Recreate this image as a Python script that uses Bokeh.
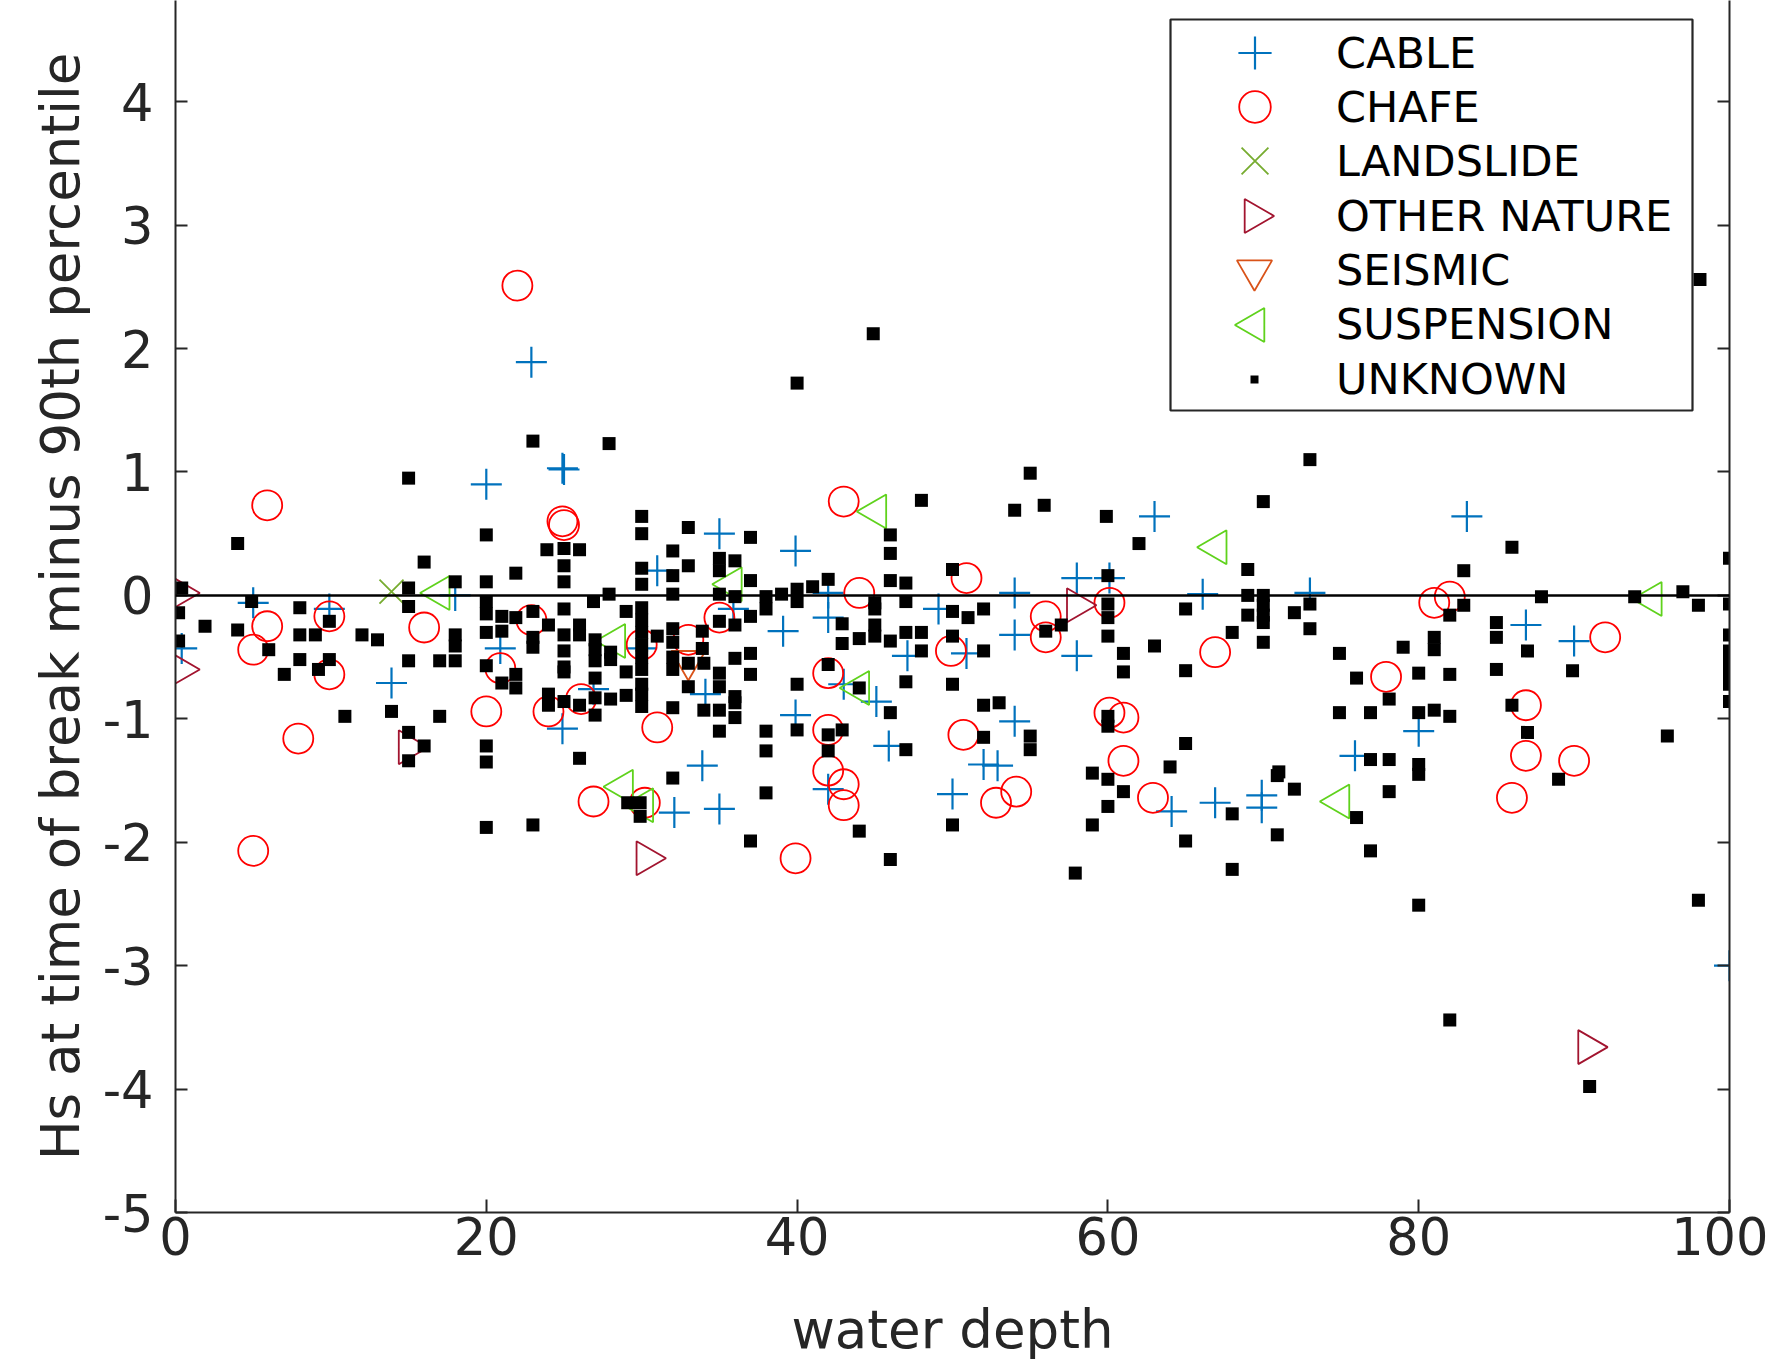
import numpy as np
from bokeh.plotting import figure
from bokeh.models import (Range1d, FixedTicker, LinearAxis, Span, Legend, LegendItem,
                          BoxAnnotation, PolyAnnotation)
from bokeh.embed import file_html
from bokeh.resources import INLINE

# ---------------- data ----------------
cable_x = [22.9, 20.0, 25.0, 24.9, 18.0, 5.0, 9.9, 0.4, 13.9, 20.9, 31.0, 26.9, 24.9, 30.0,
           35.0, 39.9, 42.0, 54.0, 58.0, 60.1, 63.0, 66.1, 35.9, 42.0, 39.1, 49.1, 54.0, 58.0,
           47.1, 50.9, 34.1, 43.0, 45.1, 39.9, 54.0, 45.9, 52.0, 52.9, 33.9,
           83.1, 73.0, 86.9, 90.0, 80.0, 75.9,
           32.1, 35.0, 42.0, 50.0, 64.1, 66.9, 69.9, 69.9, 100.0]
cable_y = [1.89, 0.90, 1.02, 1.03, 0.00, -0.06, -0.11, -0.43, -0.71, -0.43, 0.20, -0.76, -1.08, -0.43,
           0.50, 0.36, 0.02, 0.02, 0.14, 0.14, 0.64, 0.01, -0.11, -0.18, -0.29, -0.11, -0.32, -0.49,
           -0.49, -0.47, -0.80, -0.72, -0.86, -0.97, -1.02, -1.22, -1.37, -1.38, -1.38,
           0.64, 0.02, -0.24, -0.37, -1.10, -1.30,
           -1.76, -1.73, -1.57, -1.61, -1.75, -1.68, -1.62, -1.72, -3.00]

chafe_x = [22.0, 5.9, 24.9, 25.0, 5.9, 5.0, 9.9, 9.9, 16.0, 7.9, 20.0, 22.9, 20.9, 24.0, 26.1,
           30.0, 31.0, 33.0,
           43.0, 44.0, 50.9, 35.0, 56.0, 56.0, 60.1, 49.9, 42.0, 66.9, 42.0, 50.7, 60.1, 61.0,
           61.0, 42.0,
           81.0, 82.0, 77.9, 92.0, 86.9, 86.9, 90.0,
           5.0, 26.9, 30.2, 43.0, 43.0, 39.9, 52.8, 54.1, 62.9, 86.0]
chafe_y = [2.51, 0.73, 0.60, 0.57, -0.25, -0.44, -0.17, -0.64, -0.26, -1.16, -0.94, -0.20, -0.59, -0.94, -0.84,
           -0.40, -1.07, -0.36,
           0.76, 0.02, 0.14, -0.18, -0.17, -0.34, -0.06, -0.45, -0.63, -0.46, -1.09, -1.13, -0.95, -0.99,
           -1.34, -1.42,
           -0.06, -0.01, -0.66, -0.34, -0.89, -1.30, -1.34,
           -2.07, -1.67, -1.68, -1.53, -1.70, -2.13, -1.68, -1.59, -1.64, -1.64]

landslide_x = [13.9]
landslide_y = [0.03]

other_x = [0.3, 0.3, 15.0, 58.0, 30.3, 90.9]
other_y = [0.02, -0.60, -1.23, -0.08, -2.13, -3.66]

seismic_x = [33.0]
seismic_y = [-0.53]

suspension_x = [17.0, 28.3, 45.1, 35.8, 44.0, 67.0, 95.0, 28.8, 30.1, 74.9]
suspension_y = [0.02, -0.37, 0.68, 0.09, -0.75, 0.39, -0.03, -1.55, -1.70, -1.67]

unknown_x = [4.0, 15.0, 16.0, 23.0, 27.9, 20.0, 20.0, 21.9, 0.4, 30.0, 30.0, 23.9, 25.0, 26.0, 25.0,
             25.0, 33.0, 32.0, 33.0, 32.0, 30.0, 30.0, 18.0, 15.0, 27.9, 32.0, 26.9, 0.2, 4.9, 8.0,
             15.0, 1.9, 4.0, 8.0, 9.0, 12.0, 13.0, 9.9, 6.0, 0.2, 8.0, 9.9, 9.2, 7.0, 15.0,
             17.0, 18.0, 18.0, 18.0, 20.0, 20.0, 20.0, 21.0, 21.9, 21.0, 23.0, 24.0, 23.0, 23.0,
             25.0, 25.0, 26.0, 26.0, 25.0, 25.0, 25.0, 20.0, 21.0, 21.9, 21.9, 27.0, 27.0, 27.0,
             27.0, 28.0, 28.0, 29.0, 29.0, 30.0, 30.0, 30.0, 30.0, 30.0, 30.0, 31.0, 32.0, 32.0,
             32.0, 32.0, 33.0, 33.0, 24.0, 24.0, 25.0, 26.0, 27.0, 28.0, 27.0, 29.0, 30.0, 30.0,
             30.0, 32.0, 10.9, 13.9, 17.0, 15.0, 16.0, 15.0, 20.0, 20.0, 26.0,
             44.9, 40.0, 55.0, 48.0, 54.0, 55.9, 59.9, 62.0, 37.0, 46.0, 46.0, 35.0, 35.0, 36.0,
             37.0, 46.0, 47.0, 50.0, 42.0, 41.0, 40.0, 40.0, 39.0, 38.0, 38.0, 35.0, 36.0, 60.0,
             45.0, 45.0, 47.0, 50.0, 51.0, 52.0, 65.0, 60.0, 60.0, 57.0, 56.0, 37.0, 35.0, 36.0,
             33.9, 33.9, 42.9, 45.0, 45.0, 44.0, 42.9, 46.0, 47.0, 48.0, 50.0, 48.0, 52.0, 60.0,
             63.0, 61.0, 61.0, 65.0, 37.0, 37.0, 36.0, 34.0, 35.0, 35.0, 36.0, 36.0, 34.0, 35.0,
             36.0, 40.0, 42.0, 44.0, 47.0, 50.0, 52.0, 53.0, 46.0, 60.0, 60.0, 35.0, 38.0, 40.0,
             42.9, 42.0, 42.0, 38.0, 47.0, 52.0, 55.0, 55.0, 65.0, 64.0, 59.0,
             98.1, 73.0, 70.0, 86.0, 82.9, 69.0, 100.0, 69.0, 70.0, 70.0, 70.0, 70.0, 69.0, 72.0,
             73.0, 73.0, 87.9, 93.9, 97.0, 98.0, 100.0, 82.9, 82.0, 68.0, 70.0, 74.9, 79.0, 81.0,
             81.0, 85.0, 85.0, 87.0, 100.0, 100.0, 100.0, 100.0, 100.0, 100.0, 76.0, 80.0, 82.0,
             85.0, 89.9, 78.1, 74.9, 76.9, 80.0, 81.0, 82.0, 86.0, 87.0, 96.0, 76.9, 78.1, 80.0,
             71.0,
             29.1, 29.9, 29.9, 20.0, 23.0, 32.0,
             38.0, 37.0, 44.0, 46.0, 50.0, 60.0, 61.0, 60.0, 59.0, 57.9, 65.0,
             70.9, 72.0, 68.0, 70.9, 68.0, 76.0, 76.9, 78.1, 80.0, 80.0, 82.0, 89.0, 98.0, 91.0]
unknown_y = [0.42, 0.95, 0.27, 1.25, 1.23, 0.49, 0.11, 0.18, 0.06, 0.64, 0.50, 0.37, 0.38, 0.37, 0.24,
             0.11, 0.55, 0.36, 0.24, 0.16, 0.22, 0.09, 0.11, 0.06, 0.01, 0.01, -0.05, -0.14, -0.05, -0.10,
             -0.09, -0.25, -0.28, -0.32, -0.32, -0.32, -0.36, -0.21, -0.44, -0.37, -0.52, -0.52, -0.60, -0.64, -0.53,
             -0.53, -0.53, -0.32, -0.41, -0.05, -0.15, -0.30, -0.17, -0.18, -0.29, -0.13, -0.24, -0.34, -0.42,
             -0.11, -0.32, -0.24, -0.32, -0.45, -0.58, -0.62, -0.57, -0.71, -0.64, -0.75, -0.36, -0.44, -0.53,
             -0.67, -0.46, -0.52, -0.13, -0.62, -0.10, -0.20, -0.30, -0.40, -0.50, -0.60, -0.33, -0.27, -0.38,
             -0.50, -0.60, -0.55, -0.74, -0.80, -0.89, -0.86, -0.89, -0.83, -0.84, -0.97, -0.81, -0.72, -0.80,
             -0.90, -0.91, -0.98, -0.94, -0.98, -1.11, -1.22, -1.34, -1.22, -1.35, -1.32,
             2.12, 1.72, 0.99, 0.77, 0.69, 0.73, 0.64, 0.42, 0.47, 0.49, 0.34, 0.30, 0.20, 0.28,
             0.12, 0.12, 0.10, 0.21, 0.13, 0.07, 0.05, -0.05, 0.01, -0.01, -0.11, 0.01, -0.01, 0.16,
             -0.06, -0.11, -0.05, -0.13, -0.18, -0.11, -0.11, -0.07, -0.18, -0.24, -0.29, -0.17, -0.21, -0.24,
             -0.29, -0.43, -0.23, -0.24, -0.33, -0.35, -0.39, -0.37, -0.30, -0.30, -0.33, -0.45, -0.45, -0.33,
             -0.41, -0.47, -0.62, -0.61, -0.47, -0.64, -0.51, -0.55, -0.63, -0.74, -0.82, -0.87, -0.93, -0.93,
             -0.99, -0.72, -0.56, -0.75, -0.70, -0.72, -0.89, -0.87, -0.95, -0.98, -1.06, -1.10, -1.10, -1.09,
             -1.09, -1.13, -1.26, -1.26, -1.25, -1.15, -1.14, -1.25, -1.20, -1.39, -1.44,
             2.56, 1.10, 0.76, 0.39, 0.20, 0.21, 0.30, 0.00, 0.00, -0.08, -0.16, -0.22, -0.16, -0.14,
             -0.07, -0.27, -0.01, -0.01, 0.03, -0.08, -0.07, -0.08, -0.16, -0.30, -0.38, -0.47, -0.42, -0.34,
             -0.44, -0.22, -0.34, -0.45, -0.32, -0.45, -0.55, -0.65, -0.72, -0.86, -0.67, -0.63, -0.64,
             -0.60, -0.61, -0.84, -0.95, -0.95, -0.95, -0.93, -0.98, -0.89, -1.11, -1.14, -1.33, -1.33, -1.37,
             -1.43,
             -1.68, -1.68, -1.79, -1.88, -1.86, -1.48,
             -1.60, -1.99, -1.91, -2.14, -1.86, -1.49, -1.59, -1.71, -1.86, -2.25, -1.99,
             -1.46, -1.57, -1.77, -1.94, -2.22, -1.80, -2.07, -1.59, -1.45, -2.51, -3.44, -1.49, -2.47, -3.98]

labels = ["CABLE", "CHAFE", "LANDSLIDE", "OTHER NATURE", "SEISMIC", "SUSPENSION", "UNKNOWN"]
x_ticks = [0, 20, 40, 60, 80, 100]
y_ticks = [-5, -4, -3, -2, -1, 0, 1, 2, 3, 4]

# ---------------- styling ----------------
FONT = "DejaVu Sans"
AX = "#262626"
C_CABLE = "#0072BD"
C_CHAFE = "#FF0000"
C_LAND = "#77AC30"
C_OTHER = "#A2142F"
C_SEIS = "#D95319"
C_SUSP = "#5FD21C"

FRAME_LEFT = 175
FRAME_W = 1554
FRAME_H = 1212
p = figure(frame_width=FRAME_W, frame_height=FRAME_H,
           x_range=Range1d(0, 100), y_range=Range1d(-5, 4.82),
           min_border_left=FRAME_LEFT, min_border_right=39, min_border_top=0,
           min_border_bottom=153,
           output_backend="svg", toolbar_location=None)
p.outline_line_color = None
p.grid.visible = False
p.background_fill_color = "white"
p.border_fill_color = "white"

# zero line
p.add_layout(Span(location=0, dimension="width", line_color="black", line_width=2.5))

TRI = 34
r_cable = p.scatter(cable_x, cable_y, marker="cross", size=31, line_color=C_CABLE, line_width=2.2)
r_chafe = p.scatter(chafe_x, chafe_y, marker="circle", size=30, line_color=C_CHAFE,
                    fill_color=None, line_width=1.8)
r_land = p.scatter(landslide_x, landslide_y, marker="x", size=34, line_color=C_LAND, line_width=1.8)
r_other = p.scatter(other_x, other_y, marker="triangle", angle=-np.pi / 2, size=TRI,
                    line_color=C_OTHER, fill_color=None, line_width=1.8)
r_seis = p.scatter(seismic_x, seismic_y, marker="inverted_triangle", size=TRI,
                   line_color=C_SEIS, fill_color=None, line_width=1.8)
r_susp = p.scatter(suspension_x, suspension_y, marker="triangle", angle=np.pi / 2, size=TRI,
                   line_color=C_SUSP, fill_color=None, line_width=1.8)
r_unk = p.scatter(unknown_x, unknown_y, marker="square", size=13, fill_color="black",
                  line_color=None)
# invisible glyph used only to carry legend labels whose key is drawn separately
r_blank = p.scatter(x=[], y=[], marker="circle", size=1, line_alpha=0, fill_alpha=0)

# axes
xa = p.xaxis[0]
xa.ticker = FixedTicker(ticks=x_ticks)
ya = p.yaxis[0]
ya.ticker = FixedTicker(ticks=y_ticks)
ya.major_label_overrides = {t: str(t) for t in y_ticks}
for ax in (xa, ya):
    ax.minor_tick_line_color = None
    ax.major_tick_in = 13
    ax.major_tick_out = 0
    ax.axis_line_width = 2
    ax.axis_line_color = AX
    ax.major_tick_line_width = 2
    ax.major_tick_line_color = AX
    ax.major_label_text_font = FONT
    ax.major_label_text_font_size = "51px"
    ax.major_label_text_color = AX
    ax.axis_label_text_font = FONT
    ax.axis_label_text_font_size = "53px"
    ax.axis_label_text_font_style = "normal"
    ax.axis_label_text_color = AX
xa.axis_label = "water depth"
xa.major_label_standoff = 4
xa.axis_label_standoff = 41
ya.axis_label = "Hs at time of break minus 90th percentile"
ya.major_tick_in = 12
ya.major_label_standoff = 22
ya.axis_label_standoff = 9

ra = LinearAxis(ticker=FixedTicker(ticks=y_ticks),
                major_label_overrides={t: "" for t in y_ticks},
                major_tick_in=12, major_tick_out=0, minor_tick_line_color=None,
                axis_line_width=2, axis_line_color=AX, major_tick_line_width=2,
                major_tick_line_color=AX, major_label_standoff=0)
p.add_layout(ra, "right")

# ---------------- legend (screen offsets relative to the frame) ----------------
FRAME_BOTTOM = FRAME_H  # page y of frame bottom (frame top is at page y = 0)
box = BoxAnnotation(left=1170 - FRAME_LEFT, right=1692 - FRAME_LEFT,
                    top=FRAME_BOTTOM - 19, bottom=FRAME_BOTTOM - 410,
                    left_units="screen", right_units="screen", top_units="screen",
                    bottom_units="screen", fill_color="white", fill_alpha=1.0,
                    line_color=AX, line_alpha=1.0, line_width=2.2, level="annotation")
p.add_layout(box)

GLYPH_CX = 1254
LABEL_X = 1336
ROW0 = 52
ROW_STEP = 54.5
# (renderer, glyph box width, glyph box height) per legend row
leg_spec = [
    (r_cable, 83, 83),
    (r_chafe, 79, 79),
    (r_land, 95, 95),
    (r_blank, 40, 76),
    (r_seis, 88, 88),
    (r_blank, 40, 76),
    (r_unk, 20, 76),
]
for i, (lab, (r, gw, gh)) in enumerate(zip(labels, leg_spec)):
    left_page = GLYPH_CX - gw / 2
    standoff = int(round(LABEL_X - left_page - gw))
    yc = ROW0 + ROW_STEP * i
    loc = (int(round(left_page - FRAME_LEFT)), int(round(FRAME_BOTTOM - (yc + gh / 2))))
    lg = Legend(items=[LegendItem(label=lab, renderers=[r])], location=loc, margin=0,
                padding=0, spacing=0, glyph_height=gh, glyph_width=gw, label_standoff=standoff,
                label_text_font=FONT, label_text_font_size="43px", label_text_color="black",
                border_line_color=None, background_fill_alpha=0.0)
    p.add_layout(lg, "center")

# legend keys for the sideways triangles (same geometry as the bokeh triangle marker)
half = TRI / 2
h = TRI * np.sqrt(3) / 2
for i, colr, direction in [(3, C_OTHER, 1), (5, C_SUSP, -1)]:
    yc = ROW0 + ROW_STEP * i
    edge = GLYPH_CX - direction * h / 3
    apex = GLYPH_CX + direction * 2 * h / 3
    xs = [edge - FRAME_LEFT, edge - FRAME_LEFT, apex - FRAME_LEFT]
    ys = [FRAME_BOTTOM - (yc - half), FRAME_BOTTOM - (yc + half), FRAME_BOTTOM - yc]
    p.add_layout(PolyAnnotation(xs=xs, ys=ys, xs_units="screen", ys_units="screen",
                                fill_alpha=0, line_color=colr, line_alpha=1.0, line_width=1.8,
                                level="annotation"))

open("out.html", "w").write(file_html(p, INLINE))
